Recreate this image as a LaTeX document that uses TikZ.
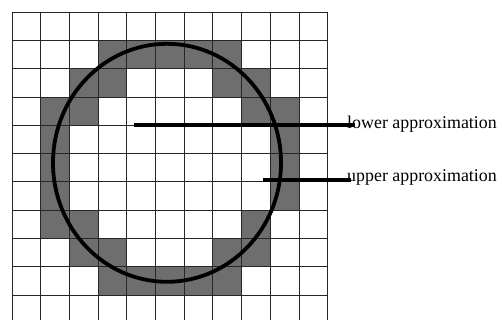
\documentclass[tikz,border=0pt]{standalone}
\usepackage{fontspec}
\setmainfont{Liberation Serif}
\begin{document}
\begin{tikzpicture}[
  x=1pt,
  y=-1pt,
  cellfill/.style={fill=black!57},
  gridline/.style={black!85, line width=1pt},
  ring/.style={black, line width=3.8pt},
  pointer/.style={black, line width=3.2pt},
  lbl/.style={font=\fontsize{17.9}{20}\selectfont, inner sep=0pt, anchor=base west},
]
  \useasboundingbox (0,0) rectangle (502,320);
  % grid origin and cell size (pt)
  \def\xo{12.3}
  \def\yo{12.3}
  \def\dx{28.67}
  \def\dy{28.27}

  % boundary cells (column/row)
  \foreach \c/\r in {3/1,4/1,5/1,6/1,7/1,
                     2/2,3/2,7/2,8/2,
                     1/3,2/3,8/3,9/3,
                     1/4,9/4,1/5,9/5,1/6,9/6,
                     1/7,2/7,8/7,
                     2/8,3/8,7/8,8/8,
                     3/9,4/9,5/9,6/9,7/9}
    \fill[cellfill] ({\xo+\c*\dx},{\yo+\r*\dy}) rectangle ++(\dx,\dy);

  % grid
  \foreach \i in {0,...,11}
    \draw[gridline] ({\xo+\i*\dx},\yo) -- ({\xo+\i*\dx},320);
  \foreach \j in {0,...,10}
    \draw[gridline] (\xo,{\yo+\j*\dy}) -- ({\xo+11*\dx},{\yo+\j*\dy});

  % the set
  \draw[ring] (167,162.8) ellipse [x radius=114, y radius=119];

  % labels
  \node[lbl] (lower) at (347,128.5) {lower approximation};
  \node[lbl] (upper) at (347,182) {upper approximation};
  \coordinate (lowin) at (134,125);
  \coordinate (upin) at (263,180);
  \draw[pointer] (lowin) -- (lowin -| lower.west) -- ++(8,0);
  \draw[pointer] (upin) -- (upin -| upper.west) -- ++(4,0);
\end{tikzpicture}
\end{document}
